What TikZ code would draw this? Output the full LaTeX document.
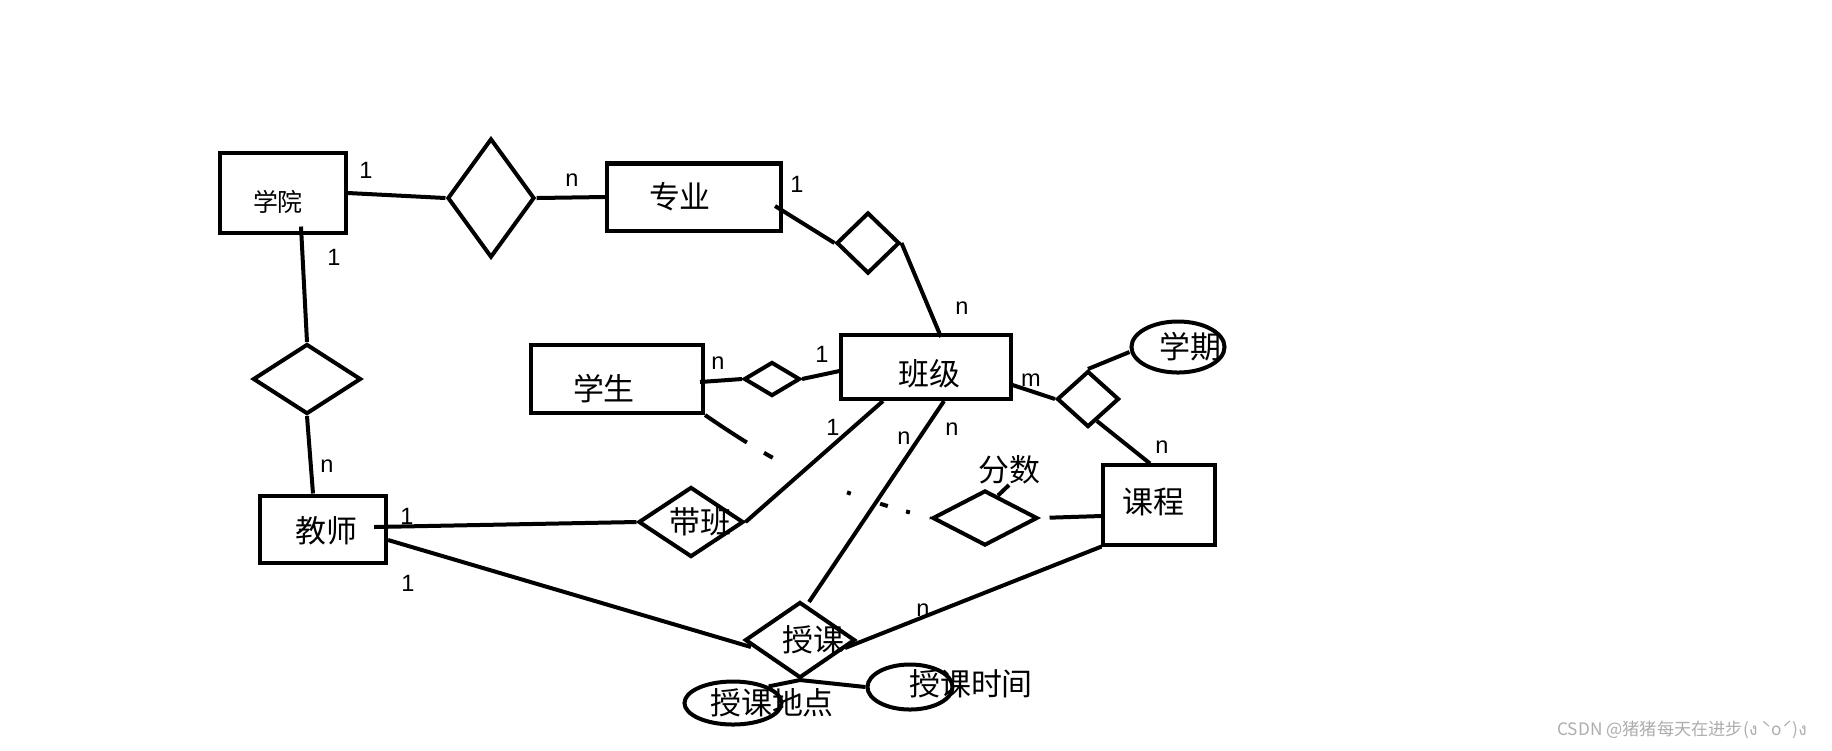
\documentclass[tikz,border=0pt]{standalone}
\usepackage{fontspec}
\setmainfont{Noto Sans CJK SC}
\newfontfamily\cardfont{Liberation Sans}
\newfontfamily\thaifont[Script=Thai]{Loma}
\usetikzlibrary{shapes.geometric}

\begin{document}
\begin{tikzpicture}[x=0.01cm, y=-0.01cm,
    ent/.style={draw, line width=0.4mm, inner sep=0pt},
    rel/.style={draw, diamond, line width=0.4mm, inner sep=0pt},
    attr/.style={draw, ellipse, line width=0.4mm, inner sep=0pt},
    txt/.style={inner sep=0pt, font=\fontsize{8.8pt}{10pt}\selectfont},
    card/.style={inner sep=0pt, font=\cardfont\fontsize{6.7pt}{8pt}\selectfont},
    wm/.style={inner sep=0pt, text=black!32, font=\fontsize{4.9pt}{5pt}\selectfont},
    every label/.style={inner sep=0pt, font=\fontsize{8.8pt}{10pt}\selectfont},
    edge/.style={line width=0.4mm}]

  \useasboundingbox (0,0) rectangle (1832,750);

  % entities
  \node[ent, minimum width=12.6mm, minimum height=7.9mm,
        label={[shift={(-0.5mm,-0.9mm)}, font=\fontsize{7.1pt}{8pt}\selectfont]center:学院}] (xy) at (283,193) {};
  \node[ent, minimum width=17.4mm, minimum height=6.7mm, label={[shift={(-1.4mm,0mm)}]center:专业}] (zy) at (694,197) {};
  \node[ent, minimum width=17.2mm, minimum height=6.8mm, label={[shift={(-1.3mm,-1mm)}]center:学生}] (xs) at (617,379) {};
  \node[ent, minimum width=16.9mm, minimum height=6.4mm, label={[shift={(0.3mm,-0.7mm)}]center:班级}] (bj) at (926,367) {};
  \node[ent, minimum width=12.6mm, minimum height=6.7mm, label={[shift={(0.3mm,-0.2mm)}]center:教师}] (js) at (323,529) {};
  \node[ent, minimum width=11.1mm, minimum height=7.9mm, label={[shift={(-0.6mm,0.3mm)}]center:课程}] (kc) at (1159,505) {};

  % relations
  \node[rel, minimum width=8.7mm, minimum height=11.9mm] (d1) at (491,198) {};
  \node[rel, minimum width=6.3mm, minimum height=6.1mm] (d3) at (868,243) {};
  \node[rel, minimum width=10.8mm, minimum height=7mm] (d2) at (307,379) {};
  \node[rel, minimum width=5.6mm, minimum height=3.4mm] (sd) at (772,379) {};
  \node[rel, minimum width=6.2mm, minimum height=5.6mm] (md) at (1088,399) {};
  \node[rel, minimum width=10.5mm, minimum height=5.5mm] (fs) at (985,518) {};
  \node[rel, minimum width=10.5mm, minimum height=7mm, label={[xshift=0.9mm]center:带班}] (db) at (691,522) {};
  \node[rel, minimum width=11mm, minimum height=7.6mm, label={[xshift=1.3mm]center:授课}] (sk) at (800,640) {};

  % attributes
  \node[attr, minimum width=9.3mm, minimum height=5.1mm, label={[xshift=1.2mm]center:学期}] (xq) at (1178,347) {};
  \node[attr, minimum width=9.7mm, minimum height=4.3mm, label={[xshift=3.9mm]center:授课地点}] (dd) at (733,703) {};
  \node[attr, minimum width=8.5mm, minimum height=4.5mm, label={[xshift=6.1mm, yshift=0.3mm]center:授课时间}] (sj) at (910,687) {};
  \node[txt] (fsl) at (1009,470) {分数};

  % cardinalities
  \node[card] (c1) at (366,170) {1};
  \node[card] (c2) at (572,180) {n};
  \node[card] (c3) at (797,184) {1};
  \node[card] (c4) at (334,257) {1};
  \node[card] (c5) at (962,308) {n};
  \node[card] (c6) at (327,466) {n};
  \node[card] (c7) at (718,363) {n};
  \node[card] (c8) at (822,354) {1};
  \node[card] (c9) at (1031,380) {m};
  \node[card] (c10) at (1162,447) {n};
  \node[card] (c11) at (407,516) {1};
  \node[card] (c12) at (408,583) {1};
  \node[card] (c13) at (833,427) {1};
  \node[card] (c14) at (904,438) {n};
  \node[card] (c15) at (952,429) {n};
  \node[card] (c16) at (923,610) {n};

  \draw[edge] (xy.east) -- (d1.west);
  \draw[edge] (d1.east) -- (zy.west);
  \draw[edge] ([shift={(-8,9)}]zy.east) -- (d3.west);
  \draw[edge] (d3.east) -- ([shift={(15,4)}]bj.north);
  \draw[edge] ([shift={(18,-8)}]xy.south) -- (d2.north);
  \draw[edge] (d2.south) -- ([shift={(-10,0)}]js.north);
  \draw[edge] ([shift={(-5,3)}]xs.east) -- (sd.west);
  \draw[edge] (sd.east) -- ([shift={(0,4)}]bj.west);
  \draw[edge] ([shift={(0,18)}]bj.east) -- (md.west);
  \draw[edge] (md.north) -- ([shift={(0,5)}]xq.west);
  \draw[edge] (md.-68) -- ([shift={(-9,0)}]kc.north);
  \draw[edge] ([shift={(-14,-2)}]js.east) -- (db.west);
  \draw[edge] (db.east) -- ([shift={(-43,0)}]bj.south);
  \draw[edge] ([shift={(18,0)}]bj.south) -- ([shift={(9,2)}]sk.north);
  \draw[edge] ([shift={(0,11)}]js.east) -- ([shift={(8,7)}]sk.west);
  \draw[edge] (kc.south west) -- ([shift={(-12,8)}]sk.east);
  \draw[edge] (sk.south) -- (dd.25);
  \draw[edge] (sk.south) -- (sj.west);
  \draw[edge, dash pattern=on 5mm off 2mm on 1mm off 8.2mm on 0.4mm off 3.1mm on 0.8mm off 1.9mm on 0.4mm off 2.1mm on 0.7mm off 5mm]
    (xs.south east) to[bend right=10] (fs.west);
  \draw[edge, shorten <=1mm] (fs.east) -- ([shift={(0,11)}]kc.west);
  \draw[edge] (fs.60) -- (fsl.south);

  \node[wm] (wm) at (1682,730) {CSDN @猪猪每天在进步({\thaifont ง} ˋoˊ){\thaifont ง}};
\end{tikzpicture}
\end{document}
